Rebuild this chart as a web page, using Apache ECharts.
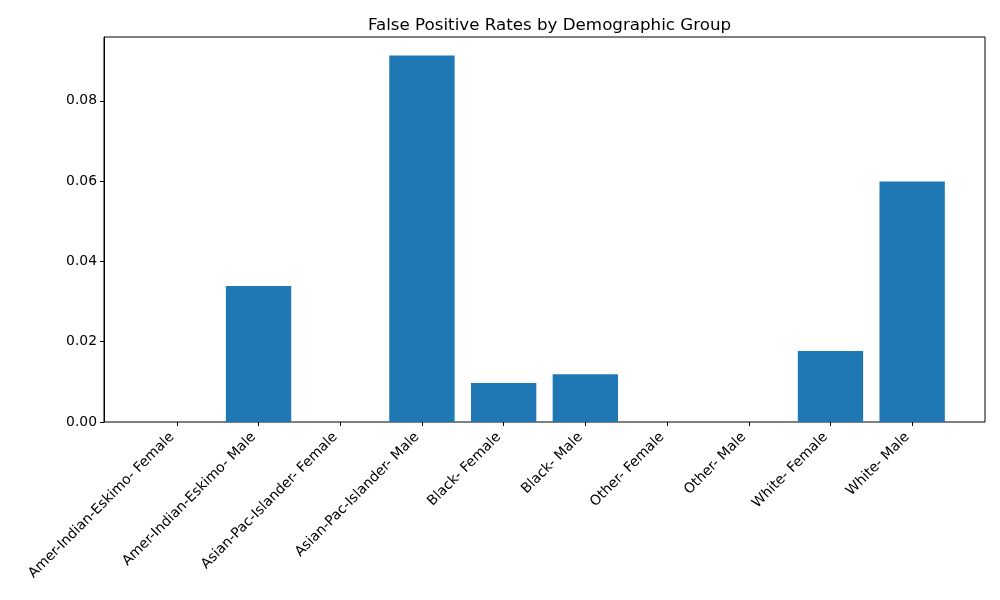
<!DOCTYPE html>
<html>
<head>
<meta charset="utf-8">
<script src="https://cdn.jsdelivr.net/npm/echarts@6/dist/echarts.min.js"></script>
<style>
  html, body { margin: 0; padding: 0; background: #fff; }
  #chart { width: 1000px; height: 600px; }
</style>
</head>
<body>
<div id="chart"></div>
<script>
  const groups = [
    'Amer-Indian-Eskimo- Female', 'Amer-Indian-Eskimo- Male',
    'Asian-Pac-Islander- Female', 'Asian-Pac-Islander- Male',
    'Black- Female', 'Black- Male',
    'Other- Female', 'Other- Male',
    'White- Female', 'White- Male'
  ];
  const falsePositiveRates = [0, 0.0339, 0, 0.0913, 0.0097, 0.0119, 0, 0, 0.0177, 0.0599];
  const yMax = 0.0959;

  const font = 'DejaVu Sans';
  const chart = echarts.init(document.getElementById('chart'));

  chart.setOption({
    animation: false,
    title: {
      text: 'False Positive Rates by Demographic Group',
      left: 544.5,
      textAlign: 'center',
      top: 12,
      textStyle: { fontFamily: font, fontSize: 16.7, fontWeight: 'normal', color: '#000' }
    },
    grid: [
      // frame + y axis, full axes box
      { left: 104, right: 15, top: 37, bottom: 178, show: true, borderColor: '#000', borderWidth: 1, backgroundColor: 'transparent' },
      // data grid, inset by the x margin
      { left: 136, right: 47, top: 37, bottom: 178 }
    ],
    xAxis: [
      { gridIndex: 0, type: 'value', show: false, min: 0, max: 1 },
      {
        gridIndex: 1,
        type: 'category',
        data: groups,
        axisLine: { show: false },
        axisTick: { show: true, alignWithLabel: true, length: 4, lineStyle: { color: '#000' } },
        axisLabel: {
          rotate: 45, interval: 0, margin: 8, padding: [0, 7, 0, 0],
          fontFamily: font, fontSize: 13.9, color: '#000'
        }
      }
    ],
    yAxis: [
      {
        gridIndex: 0,
        type: 'value',
        min: 0, max: yMax, interval: 0.02,
        splitLine: { show: false },
        axisLine: { show: true, lineStyle: { color: '#000' } },
        axisTick: { show: true, length: 4, lineStyle: { color: '#000' } },
        axisLabel: {
          showMaxLabel: false,
          fontFamily: font, fontSize: 13.9, color: '#000', margin: 7,
          formatter: v => v.toFixed(2)
        }
      },
      { gridIndex: 1, type: 'value', min: 0, max: yMax, show: false, splitLine: { show: false } }
    ],
    series: [{
      name: 'False Positive Rate',
      type: 'bar',
      xAxisIndex: 1,
      yAxisIndex: 1,
      data: falsePositiveRates,
      barWidth: '80%',
      itemStyle: { color: '#1f77b4' }
    }]
  });
</script>
</body>
</html>
